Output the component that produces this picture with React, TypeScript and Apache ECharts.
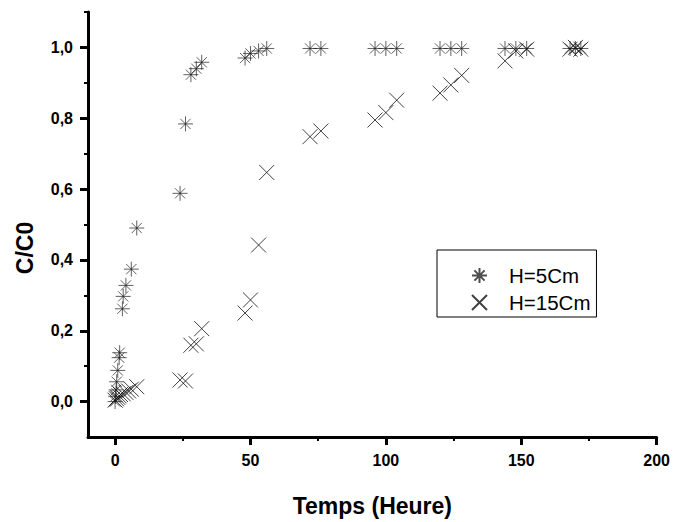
import React, { useEffect, useRef } from "react";
import * as echarts from "echarts";

// Times (hours) and C/C0 values
const TIME_H5 = [0, 0.2, 0.4, 0.6, 1, 1.5, 1.7, 2.7, 3, 4, 6, 8, 24, 26, 28, 30, 32, 48, 50, 53, 56, 72, 76, 96, 100, 104, 120, 124, 128, 144, 148, 152, 168, 170, 172];
const CC0_H5 = [0, 0.015, 0.033, 0.056, 0.088, 0.124, 0.138, 0.262, 0.297, 0.328, 0.374, 0.49, 0.588, 0.784, 0.923, 0.94, 0.958, 0.97, 0.983, 0.99, 0.997, 0.997, 0.997, 0.997, 0.997, 0.997, 0.997, 0.997, 0.997, 0.997, 0.997, 0.997, 0.997, 0.997, 0.997];

const TIME_H15 = [0, 0.5, 1, 1.5, 2, 3, 4, 5, 6, 8, 24, 26, 28, 30, 32, 48, 50, 53, 56, 72, 76, 96, 100, 104, 120, 124, 128, 144, 148, 152, 168, 170, 172];
const CC0_H15 = [0.004, 0.008, 0.012, 0.016, 0.02, 0.022, 0.026, 0.03, 0.035, 0.042, 0.061, 0.058, 0.159, 0.163, 0.206, 0.25, 0.287, 0.442, 0.647, 0.748, 0.764, 0.795, 0.816, 0.851, 0.871, 0.894, 0.921, 0.962, 0.99, 0.995, 0.995, 1.0, 0.995];

const X_MAJOR = [0, 50, 100, 150, 200];
const X_MINOR = [25, 75, 125, 175];
const Y_MAJOR = [0, 0.2, 0.4, 0.6, 0.8, 1.0];
const Y_MINOR = [0.1, 0.3, 0.5, 0.7, 0.9, 1.1];

const SERIES_NAMES = ["H=5Cm", "H=15Cm"];
const X_TITLE = "Temps (Heure)";
const Y_TITLE = "C/C0";

const ASTERISK = "path://M5 0L5 10M0 5L10 5M1.6 1.6L8.4 8.4M8.4 1.6L1.6 8.4";
const CROSS = "path://M0 0L10 10M10 0L0 10";

const FONT = "Liberation Sans, Arial, sans-serif";

export default function App() {
  const ref = useRef<HTMLDivElement>(null);
  useEffect(() => {
    if (!ref.current) return;
    const chart = echarts.init(ref.current, undefined, { renderer: "svg" });
    const zip = (xs: number[], ys: number[]) => xs.map((x, i) => [x, ys[i]]);
    const axisLine = { show: true, onZero: false, lineStyle: { color: "#000", width: 3 } };
    const labelStyle = { color: "#000", fontSize: 16, fontWeight: "bold" as const, fontFamily: FONT };
    chart.setOption({
      animation: false,
      backgroundColor: "#fff",
      grid: { left: 88, right: 16, top: 12, bottom: 73, containLabel: false },
      xAxis: [
        {
          type: "value",
          min: -10,
          max: 200,
          position: "bottom",
          axisLine,
          splitLine: { show: false },
          axisTick: { show: true, customValues: X_MAJOR, length: 8, lineStyle: { color: "#000", width: 3 } },
          axisLabel: { show: true, customValues: X_MAJOR, margin: 15, ...labelStyle },
          name: X_TITLE,
          nameLocation: "middle",
          nameGap: 57,
          nameTextStyle: { color: "#000", fontSize: 23, fontWeight: "bold", fontFamily: FONT },
        },
        {
          type: "value",
          min: -10,
          max: 200,
          position: "bottom",
          axisLine: { show: false, onZero: false },
          splitLine: { show: false },
          axisTick: { show: true, customValues: X_MINOR, length: 4, lineStyle: { color: "#000", width: 2 } },
          axisLabel: { show: false },
        },
      ],
      yAxis: [
        {
          type: "value",
          min: -0.1,
          max: 1.1,
          position: "left",
          axisLine,
          splitLine: { show: false },
          axisTick: { show: true, customValues: Y_MAJOR, length: 8, lineStyle: { color: "#000", width: 3 } },
          axisLabel: {
            show: true,
            customValues: Y_MAJOR,
            margin: 15,
            formatter: (v: number) => v.toFixed(1).replace(".", ","),
            ...labelStyle,
          },
        },
        {
          type: "value",
          min: -0.1,
          max: 1.1,
          position: "left",
          axisLine: { show: false, onZero: false },
          splitLine: { show: false },
          axisTick: { show: true, customValues: Y_MINOR, length: 4, lineStyle: { color: "#000", width: 2 } },
          axisLabel: { show: false },
        },
      ],
      legend: {
        orient: "vertical",
        left: 437,
        top: 250,
        padding: [15, 6, 4, 34],
        itemGap: 6,
        itemWidth: 15,
        itemHeight: 15,
        borderColor: "#000",
        borderWidth: 1,
        textStyle: { color: "#000", fontSize: 20.5, fontFamily: FONT, padding: [0, 0, 0, 17] },
        data: SERIES_NAMES,
      },
      graphic: [
        {
          type: "text",
          x: 25,
          y: 248,
          rotation: Math.PI / 2,
          style: {
            text: Y_TITLE,
            fill: "#000",
            font: `bold 23px ${FONT}`,
            textAlign: "center",
            textVerticalAlign: "middle",
          },
        },
      ],
      series: [
        {
          name: SERIES_NAMES[0],
          type: "scatter",
          xAxisIndex: 0,
          yAxisIndex: 0,
          symbol: ASTERISK,
          symbolSize: 15,
          itemStyle: { color: "transparent", borderColor: "#222", borderWidth: 0.9 },
          data: zip(TIME_H5, CC0_H5),
        },
        {
          name: SERIES_NAMES[1],
          type: "scatter",
          xAxisIndex: 0,
          yAxisIndex: 0,
          symbol: CROSS,
          symbolSize: 15,
          itemStyle: { color: "transparent", borderColor: "#111", borderWidth: 1 },
          data: zip(TIME_H15, CC0_H15),
        },
      ],
    });
    return () => chart.dispose();
  }, []);
  return (
    <div
      ref={ref}
      style={{ position: "fixed", left: 0, top: 0, width: 673, height: 522, background: "#fff" }}
    />
  );
}
